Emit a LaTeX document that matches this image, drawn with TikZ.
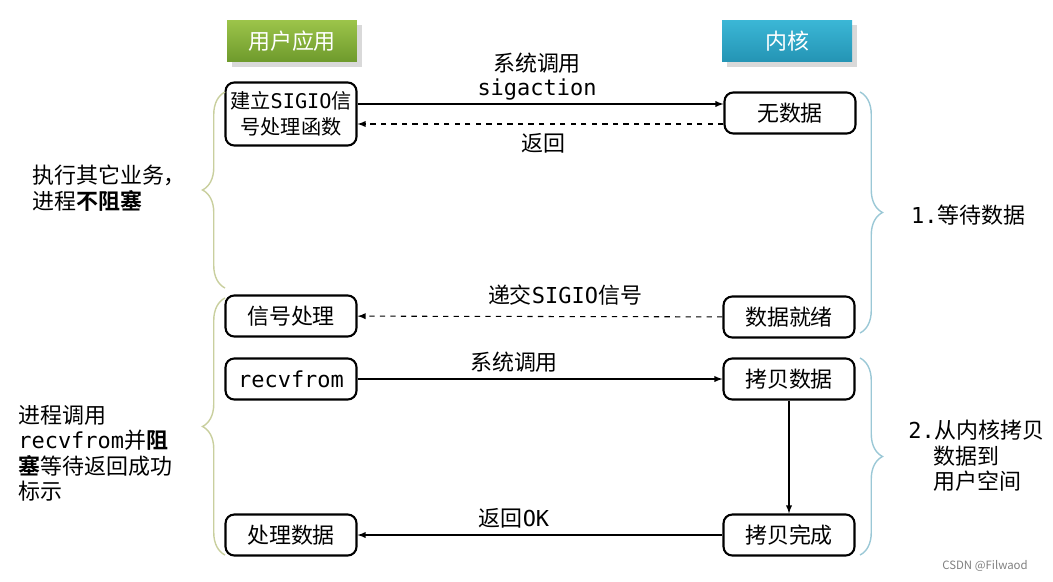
\documentclass[tikz,border=0pt]{standalone}
\usepackage{fontspec}
\setmainfont{Noto Sans CJK SC}
\newfontfamily\mono{DejaVu Sans Mono}
\newfontfamily\cjkb{Noto Sans CJK SC Bold}
\usetikzlibrary{decorations.pathreplacing,shadows}
\definecolor{gA}{HTML}{9CC44A}\definecolor{gB}{HTML}{6E9A2C}
\definecolor{bA}{HTML}{3BB7D6}\definecolor{bB}{HTML}{2494B4}
\definecolor{lbr}{HTML}{C9CF9E}\definecolor{rbr}{HTML}{9BC8D6}
\begin{document}
\begin{tikzpicture}[x=0.02cm,y=-0.02cm,
 every node/.style={font=\fontsize{12.5}{14.5}\selectfont},
 hdr/.style={minimum width=2.6cm,minimum height=0.84cm,text=white,drop shadow={opacity=0.3}},
 box/.style={draw,very thick,rounded corners=5pt,minimum width=2.62cm,minimum height=0.82cm,fill=white,align=center,inner sep=1pt},
 arr/.style={-latex,semithick},
 dar/.style={-latex,semithick,dashed},
 lb/.style={decorate,decoration={brace,amplitude=0.45cm},draw=lbr,thick},
 rb/.style={decorate,decoration={brace,amplitude=0.45cm},draw=rbr,thick}]
\useasboundingbox (0,0) rectangle (1053,581);
\node[hdr,top color=gA,bottom color=gB] (hu) at (292,41) {用户应用};
\node[hdr,top color=bA,bottom color=bB] (hk) at (787,41) {内核};
\node[box,minimum height=1.26cm,inner sep=0pt,font=\fontsize{11.5}{14.5}\selectfont] (build) at (291,114) {建立{\mono SIGIO}信\\号处理函数};
\node[box] (nodata) at (790,113) {无数据};
\node[box] (sig) at (291,316) {信号处理};
\node[box] (ready) at (789,317) {数据就绪};
\node[box] (recv) at (291,379) {\mono recvfrom};
\node[box] (copy) at (789,379) {拷贝数据};
\node[box] (proc) at (291,535) {处理数据};
\node[box] (done) at (789,535) {拷贝完成};
\draw[arr] (build.east|-0,104) -- (nodata.west|-0,104);
\draw[dar] (nodata.west|-0,124) -- (build.east|-0,124);
\draw[dar] (ready) -- (sig);
\draw[arr] (recv) -- (copy);
\draw[arr] (copy) -- (done);
\draw[arr] (done) -- (proc);
\node (l1) at (537,63) {系统调用};
\node (l2) at (537,90) {\mono sigaction};
\node (l3) at (543,143) {返回};
\node (l4) at (565,295) {递交{\mono SIGIO}信号};
\node (l5) at (514,362) {系统调用};
\node (l6) at (514,518) {返回{\mono OK}};
\draw[lb] (225,288) -- (225,92);
\draw[lb] (225,555) -- (225,298);
\draw[rb] (860,92) -- (860,333);
\draw[rb] (860,358) -- (860,555);
\node[align=left,anchor=west] (t1) at (26,188) {执行其它业务，\\进程{\cjkb 不阻塞}};
\node[anchor=west] (t2) at (905,215) {{\mono 1.}等待数据};
\node[align=left,anchor=north west,inner sep=0pt] (t3) at (908,420) {{\mono 2.}从内核拷贝\\\hspace*{0.5cm}数据到\\\hspace*{0.5cm}用户空间};
\node[align=left,anchor=north west,inner sep=0pt] (t4) at (18,405) {进程调用\\{\mono recvfrom}并{\cjkb 阻}\\{\cjkb 塞}等待返回成功\\标示};
\node[text=gray,font=\fontsize{6.5}{7}\selectfont] (wm) at (985,566) {CSDN @Filwaod};
\end{tikzpicture}
\end{document}
